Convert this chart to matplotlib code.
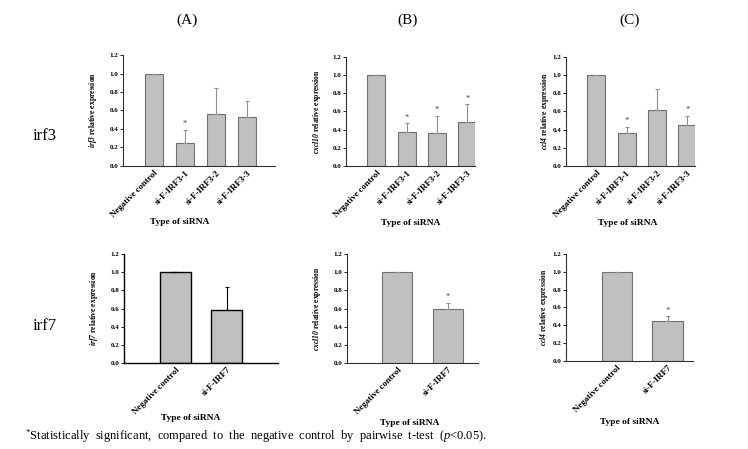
# knockdown of irf3 / irf7 and the relative expression of irf3/irf7, cxcl10 and ccl4
import numpy as np
import matplotlib.pyplot as plt

plt.rcParams['font.family'] = 'Liberation Serif'
plt.rcParams['mathtext.fontset'] = 'custom'
plt.rcParams['mathtext.it'] = 'Liberation Serif:italic'
plt.rcParams['mathtext.bfit'] = 'Liberation Serif:italic:bold'
plt.rcParams['mathtext.rm'] = 'Liberation Serif'

# top row: siRNA against IRF3
irf3_groups = ["Negative control", "si-F-IRF3-1", "si-F-IRF3-2", "si-F-IRF3-3"]
irf3_irf3 = [1.0, 0.25, 0.56, 0.53]
irf3_irf3_err = [0.0, 0.14, 0.28, 0.17]
irf3_irf3_sig = [False, True, False, False]
irf3_cxcl10 = [1.0, 0.37, 0.36, 0.48]
irf3_cxcl10_err = [0.0, 0.10, 0.19, 0.20]
irf3_cxcl10_sig = [False, True, True, True]
irf3_ccl4 = [1.0, 0.36, 0.62, 0.45]
irf3_ccl4_err = [0.0, 0.07, 0.23, 0.10]
irf3_ccl4_sig = [False, True, False, True]

# bottom row: siRNA against IRF7
irf7_groups = ["Negative control", "si-F-IRF7"]
irf7_irf7 = [1.0, 0.58]
irf7_irf7_err = [0.0, 0.26]
irf7_irf7_sig = [False, False]
irf7_cxcl10 = [1.0, 0.60]
irf7_cxcl10_err = [0.0, 0.06]
irf7_cxcl10_sig = [False, True]
irf7_ccl4 = [1.0, 0.45]
irf7_ccl4_err = [0.0, 0.05]
irf7_ccl4_sig = [False, True]

yticks = [0.0, 0.2, 0.4, 0.6, 0.8, 1.0, 1.2]

fig = plt.figure(figsize=(7.48, 4.49), dpi=100)


def bar_panel(rect, groups, values, errs, sig, gene, xlim, ylab_x, xlab_pos,
              edge="#707070", lw=0.8):
    ax = fig.add_axes(rect)
    x = np.arange(len(groups))
    ax.bar(x, values, width=0.6, color="#c0c0c0", edgecolor=edge, linewidth=lw)
    ax.errorbar(x, values, yerr=[np.zeros(len(errs)), errs], fmt="none",
                ecolor="#909090" if edge != "black" else "black",
                elinewidth=0.8, capsize=1.5, capthick=0.8)
    # asterisk for significant groups
    for xi, v, e, s in zip(x, values, errs, sig):
        if s:
            ax.text(xi, v + e + 0.02, "*", ha="center", va="bottom",
                    fontsize=6, color="#404040")
    ax.set_xlim(*xlim)
    ax.set_ylim(0, 1.2)
    ax.set_yticks(yticks)
    ax.set_yticklabels(["%.1f" % t for t in yticks], fontsize=5,
                       fontweight="bold")
    ax.set_xticks(x)
    ax.set_xticklabels(groups, rotation=45, ha="right", va="top",
                       rotation_mode="anchor", fontsize=6.5, fontweight="bold")
    ax.tick_params(axis="x", length=0, pad=2)
    ax.tick_params(axis="y", length=2, width=0.6, pad=1.5)
    for side in ["top", "right"]:
        ax.spines[side].set_visible(False)
    for side in ["left", "bottom"]:
        ax.spines[side].set_linewidth(0.8 if edge != "black" else 1.0)
        ax.spines[side].set_color("#303030" if edge != "black" else "black")
    ax.set_ylabel(r"$\mathbfit{%s}$ relative expression" % gene, fontsize=5.5,
                  fontweight="bold")
    ax.yaxis.set_label_coords(ylab_x, 0.5)
    ax.set_xlabel("Type of siRNA", fontsize=6.8, fontweight="bold")
    ax.xaxis.set_label_coords(*xlab_pos)
    return ax


bar_panel([0.1644, 0.6303, 0.2032, 0.2472], irf3_groups, irf3_irf3,
          irf3_irf3_err, irf3_irf3_sig, "irf3", (-1, 3.9), -0.16, (0.375, -0.47))
bar_panel([0.4626, 0.6303, 0.1725, 0.2428], irf3_groups, irf3_cxcl10,
          irf3_cxcl10_err, irf3_cxcl10_sig, "cxcl10", (-1, 3.25), -0.18, (0.5, -0.49))
bar_panel([0.7567, 0.6303, 0.1725, 0.2428], irf3_groups, irf3_ccl4,
          irf3_ccl4_err, irf3_ccl4_sig, "ccl4", (-1, 3.25), -0.12, (0.48, -0.49))

bar_panel([0.1658, 0.1915, 0.2059, 0.2428], irf7_groups, irf7_irf7,
          irf7_irf7_err, irf7_irf7_sig, "irf7", (-1, 2.0), -0.155, (0.435, -0.47),
          edge="black", lw=1.0)
bar_panel([0.4639, 0.1915, 0.1751, 0.2428], irf7_groups, irf7_cxcl10,
          irf7_cxcl10_err, irf7_cxcl10_sig, "cxcl10", (-1, 1.6), -0.18, (0.48, -0.51))
bar_panel([0.7567, 0.196, 0.1698, 0.2383], irf7_groups, irf7_ccl4,
          irf7_ccl4_err, irf7_ccl4_sig, "ccl4", (-1, 1.5), -0.13, (0.5, -0.53))

# column and row titles
for label, xpos in [("(A)", 187), ("(B)", 408), ("(C)", 630)]:
    fig.text(xpos / 748, 1 - 20 / 449, label, ha="center", va="center", fontsize=11)
fig.text(45 / 748, 1 - 136 / 449, "irf3", ha="center", va="center", fontsize=12)
fig.text(45 / 748, 1 - 326 / 449, "irf7", ha="center", va="center", fontsize=12)

fig.text(25 / 748, 1 - 436 / 449,
         r"$^{*}$Statistically  significant,  compared  to  the  negative  control  by  "
         r"pairwise  t-test  ($\mathit{p}$<0.05).",
         ha="left", va="center", fontsize=9)

fig.savefig("out.png", dpi=100)
